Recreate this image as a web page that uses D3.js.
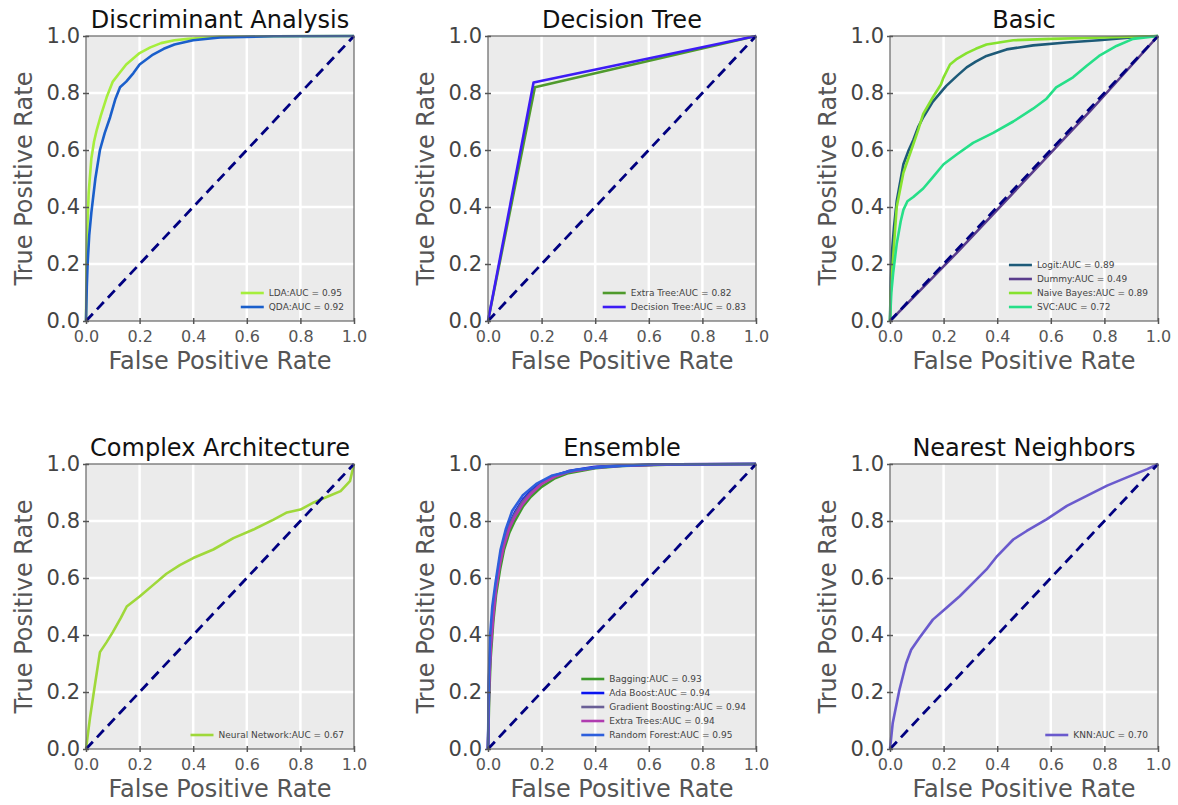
<!DOCTYPE html>
<html><head><meta charset="utf-8">
<script src="https://cdn.jsdelivr.net/npm/d3@7"></script>
<style>body{margin:0;background:#fff}text{font-family:"DejaVu Sans",sans-serif}</style>
</head><body><svg id="c" width="1178" height="805"></svg>
<script>
const tickValues = [0, 0.2, 0.4, 0.6, 0.8, 1.0];
const tickLabels = ["0.0", "0.2", "0.4", "0.6", "0.8", "1.0"];
const panelTitles = ["Discriminant Analysis", "Decision Tree", "Basic", "Complex Architecture", "Ensemble", "Nearest Neighbors"];

// Discriminant Analysis
const lda = [[0,0],[0.002,0.2],[0.004,0.3],[0.01,0.45],[0.02,0.57],[0.03,0.63],[0.04,0.67],[0.055,0.72],[0.077,0.785],[0.1,0.84],[0.125,0.87],[0.15,0.9],[0.2,0.94],[0.24,0.96],[0.28,0.975],[0.33,0.985],[0.38,0.99],[0.5,0.997],[0.7,0.999],[1,1]];
const qda = [[0,0],[0.003,0.12],[0.006,0.2],[0.012,0.3],[0.02,0.38],[0.035,0.5],[0.052,0.6],[0.07,0.66],[0.09,0.715],[0.11,0.78],[0.127,0.82],[0.15,0.84],[0.177,0.87],[0.2,0.9],[0.25,0.935],[0.29,0.955],[0.33,0.97],[0.4,0.985],[0.5,0.995],[0.7,0.999],[1,1]];
// Decision Tree
const extraTree = [[0,0],[0.175,0.82],[1,1]];
const decisionTree = [[0,0],[0.17,0.837],[1,1]];
// Basic
const logit = [[0,0],[0.003,0.15],[0.008,0.25],[0.015,0.33],[0.025,0.42],[0.05,0.55],[0.07,0.6],[0.087,0.635],[0.105,0.68],[0.124,0.715],[0.16,0.77],[0.21,0.825],[0.25,0.86],[0.286,0.89],[0.32,0.91],[0.36,0.93],[0.435,0.953],[0.534,0.967],[0.658,0.977],[0.78,0.985],[0.9,0.995],[1,1]];
const dummy = [[0,0],[0.1,0.095],[0.25,0.24],[0.5,0.49],[0.75,0.74],[1,1]];
const naiveBayes = [[0,0],[0.003,0.1],[0.01,0.2],[0.025,0.4],[0.05,0.52],[0.087,0.62],[0.105,0.67],[0.124,0.727],[0.16,0.785],[0.19,0.83],[0.2,0.855],[0.224,0.9],[0.25,0.92],[0.286,0.94],[0.32,0.955],[0.36,0.97],[0.46,0.985],[0.6,0.99],[0.8,0.995],[1,1]];
const svc = [[0,0],[0.005,0.1],[0.012,0.17],[0.025,0.27],[0.04,0.35],[0.05,0.39],[0.065,0.42],[0.087,0.435],[0.124,0.465],[0.16,0.505],[0.2,0.55],[0.25,0.585],[0.31,0.625],[0.385,0.66],[0.46,0.7],[0.534,0.745],[0.584,0.78],[0.62,0.82],[0.683,0.855],[0.733,0.895],[0.78,0.93],[0.845,0.965],[0.907,0.99],[1,1]];
// Complex Architecture
const neuralNetwork = [[0,0],[0.015,0.11],[0.034,0.23],[0.052,0.34],[0.077,0.375],[0.1,0.41],[0.13,0.46],[0.152,0.5],[0.2,0.535],[0.25,0.575],[0.3,0.615],[0.35,0.645],[0.4,0.67],[0.475,0.7],[0.55,0.74],[0.625,0.77],[0.7,0.805],[0.75,0.83],[0.8,0.84],[0.85,0.865],[0.9,0.885],[0.95,0.905],[0.985,0.94],[1,1]];
// Ensemble
const bagging = [[0,0],[0.005,0.2],[0.01,0.32],[0.02,0.45],[0.03,0.54],[0.045,0.63],[0.06,0.7],[0.08,0.76],[0.1,0.8],[0.13,0.85],[0.16,0.885],[0.2,0.92],[0.25,0.95],[0.3,0.968],[0.4,0.985],[0.5,0.993],[0.7,0.998],[1,1]];
const adaBoost = [[0,0],[0.004,0.25],[0.01,0.38],[0.02,0.5],[0.03,0.58],[0.045,0.67],[0.06,0.735],[0.08,0.79],[0.1,0.83],[0.13,0.875],[0.16,0.905],[0.2,0.935],[0.25,0.96],[0.3,0.975],[0.4,0.99],[0.5,0.995],[0.7,0.999],[1,1]];
const gradientBoosting = [[0,0],[0.004,0.23],[0.01,0.36],[0.02,0.48],[0.03,0.57],[0.045,0.66],[0.06,0.725],[0.08,0.785],[0.1,0.825],[0.13,0.87],[0.16,0.9],[0.2,0.932],[0.25,0.958],[0.3,0.974],[0.4,0.988],[0.5,0.995],[0.7,0.999],[1,1]];
const extraTrees = [[0,0],[0.004,0.22],[0.01,0.35],[0.02,0.47],[0.03,0.56],[0.045,0.65],[0.06,0.715],[0.08,0.775],[0.1,0.815],[0.13,0.86],[0.16,0.895],[0.2,0.93],[0.25,0.956],[0.3,0.972],[0.4,0.987],[0.5,0.994],[0.7,0.999],[1,1]];
const randomForest = [[0,0],[0.003,0.25],[0.008,0.4],[0.016,0.5],[0.029,0.59],[0.047,0.7],[0.066,0.77],[0.09,0.835],[0.13,0.89],[0.18,0.93],[0.24,0.96],[0.33,0.98],[0.43,0.99],[0.6,0.998],[1,1]];
// Nearest Neighbors
const knn = [[0,0],[0.01,0.09],[0.035,0.207],[0.06,0.3],[0.079,0.348],[0.11,0.39],[0.16,0.454],[0.21,0.495],[0.26,0.536],[0.31,0.583],[0.36,0.63],[0.4,0.677],[0.46,0.735],[0.51,0.765],[0.584,0.806],[0.66,0.853],[0.734,0.888],[0.81,0.924],[0.884,0.953],[0.96,0.982],[1,1]];

const panelSeries = [
  [{n:"LDA:AUC = 0.95", d:lda, c:"#a6ee3c"}, {n:"QDA:AUC = 0.92", d:qda, c:"#1a5fcb"}],
  [{n:"Extra Tree:AUC = 0.82", d:extraTree, c:"#4f9a2c"}, {n:"Decision Tree:AUC = 0.83", d:decisionTree, c:"#3d1cf5"}],
  [{n:"Logit:AUC = 0.89", d:logit, c:"#1d5a78"}, {n:"Dummy:AUC = 0.49", d:dummy, c:"#5a3d8c"}, {n:"Naive Bayes:AUC = 0.89", d:naiveBayes, c:"#86e22e"}, {n:"SVC:AUC = 0.72", d:svc, c:"#26df88"}],
  [{n:"Neural Network:AUC = 0.67", d:neuralNetwork, c:"#9fd83a"}],
  [{n:"Bagging:AUC = 0.93", d:bagging, c:"#3c9a2a"}, {n:"Ada Boost:AUC = 0.94", d:adaBoost, c:"#0a14f0"}, {n:"Gradient Boosting:AUC = 0.94", d:gradientBoosting, c:"#6a5f96"}, {n:"Extra Trees:AUC = 0.94", d:extraTrees, c:"#b03cb0"}, {n:"Random Forest:AUC = 0.95", d:randomForest, c:"#2d5fdc"}],
  [{n:"KNN:AUC = 0.70", d:knn, c:"#6a5acd"}]
];

const svg = d3.select("#c");
const colX = [86, 488, 890], rowY = [36, 464], W = 268, H = 285;

panelTitles.forEach((title, i) => {
  const left = colX[i % 3], top = rowY[Math.floor(i / 3)];
  const x = d3.scaleLinear().domain([0, 1]).range([left, left + W]);
  const y = d3.scaleLinear().domain([0, 1]).range([top + H, top]);
  const g = svg.append("g");
  g.append("rect").attr("x", left).attr("y", top).attr("width", W).attr("height", H).attr("fill", "#ebebeb");
  const inner = tickValues.slice(1, -1);
  g.selectAll(".gx").data(inner).enter().append("line")
    .attr("x1", d => x(d)).attr("x2", d => x(d)).attr("y1", top).attr("y2", top + H)
    .attr("stroke", "#fff").attr("stroke-width", 2.5);
  g.selectAll(".gy").data(inner).enter().append("line")
    .attr("y1", d => y(d)).attr("y2", d => y(d)).attr("x1", left).attr("x2", left + W)
    .attr("stroke", "#fff").attr("stroke-width", 2.5);

  const line = d3.line().x(d => x(d[0])).y(d => y(d[1]));
  const series = panelSeries[i];
  series.forEach(s => {
    g.append("path").attr("d", line(s.d)).attr("fill", "none").attr("stroke", s.c).attr("stroke-width", 2.6).attr("stroke-linejoin", "round");
  });
  g.append("path").attr("d", line([[0,0],[1,1]])).attr("fill", "none").attr("stroke", "#000080")
    .attr("stroke-width", 2.8).attr("stroke-dasharray", "10,6");

  g.append("rect").attr("x", left).attr("y", top).attr("width", W).attr("height", H)
    .attr("fill", "none").attr("stroke", "#666").attr("stroke-width", 1.2);

  // axes
  const ax = d3.axisBottom(x).tickValues(tickValues).tickFormat((d, k) => tickLabels[k]).tickSize(3).tickPadding(7);
  const gx = g.append("g").attr("transform", `translate(0,${top + H})`).call(ax);
  gx.select(".domain").remove();
  gx.selectAll("line").attr("stroke", "#555").attr("stroke-width", 1.5).attr("y1", -3);
  gx.selectAll("text").attr("font-size", 16).attr("fill", "#555").attr("font-family", "DejaVu Sans");
  const ay = d3.axisLeft(y).tickValues(tickValues).tickFormat((d, k) => tickLabels[k]).tickSize(3).tickPadding(3);
  const gy = g.append("g").attr("transform", `translate(${left},0)`).call(ay);
  gy.select(".domain").remove();
  gy.selectAll("line").attr("stroke", "#555").attr("stroke-width", 1.5).attr("x1", 3);
  gy.selectAll("text").attr("font-size", 21).attr("fill", "#444").attr("font-family", "DejaVu Sans");

  g.append("text").attr("x", left + W / 2).attr("y", top - 8).attr("text-anchor", "middle")
    .attr("font-size", 24).attr("fill", "#111").text(title);
  g.append("text").attr("x", left + W / 2).attr("y", top + H + 48).attr("text-anchor", "middle")
    .attr("font-size", 24).attr("fill", "#555").text("False Positive Rate");
  g.append("text").attr("transform", `translate(${left - 54},${top + H / 2}) rotate(-90)`).attr("text-anchor", "middle")
    .attr("font-size", 24).attr("fill", "#555").text("True Positive Rate");

  // legend
  const lg = g.append("g");
  const texts = series.map((s, k) => lg.append("text").attr("font-size", 9).attr("fill", "#444").attr("dy", "0.35em").text(s.n));
  const maxW = d3.max(texts, t => t.node().getComputedTextLength());
  const tx = left + W - 10 - maxW;
  const n = series.length;
  series.forEach((s, k) => {
    const yy = top + H - 14 - (n - 1 - k) * 14;
    texts[k].attr("x", tx).attr("y", yy);
    lg.append("line").attr("x1", tx - 28).attr("x2", tx - 5).attr("y1", yy).attr("y2", yy)
      .attr("stroke", s.c).attr("stroke-width", 2.6);
  });
});
</script></body></html>
